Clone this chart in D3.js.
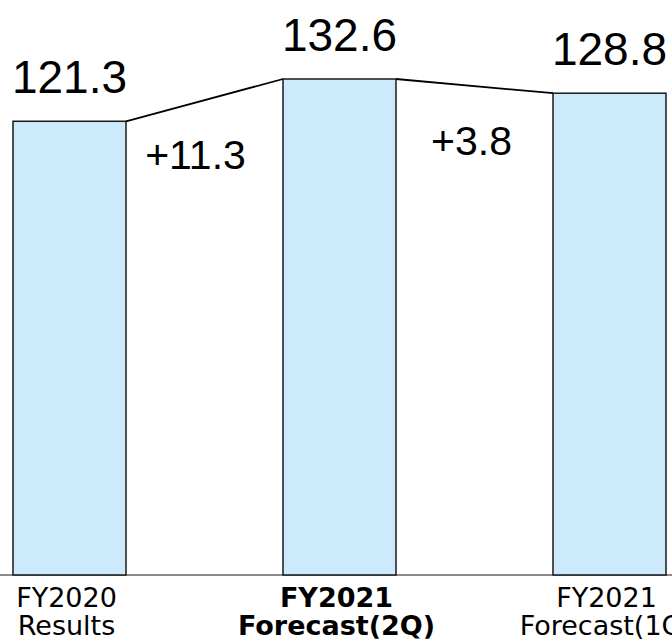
<!DOCTYPE html>
<html>
<head>
<meta charset="utf-8">
<script src="https://cdn.jsdelivr.net/npm/d3@7"></script>
<style>
html,body{margin:0;padding:0;background:#fff;}
svg{display:block;}
</style>
</head>
<body>
<svg id="chart" width="672" height="643"></svg>
<script>
const categories = ["FY2020 Results", "FY2021 Forecast(2Q)", "FY2021 Forecast(1Q)"];
const labelLine1 = ["FY2020", "FY2021", "FY2021"];
const labelLine2 = ["Results", "Forecast(2Q)", "Forecast(1Q)"];
const boldFlags = [false, true, false];
const values = [121.3, 132.6, 128.8];
const valueLabels = ["121.3", "132.6", "128.8"];
const deltaLabels = ["+11.3", "+3.8"];

const svg = d3.select("#chart");
const W = 672;

const x = d3.scalePoint().domain(categories).range([69.5, 609.5]);
const barW = 113;
const y = d3.scaleLinear().domain([0, 132.6]).range([575, 79]);

// baseline
svg.append("line")
  .attr("x1", 0).attr("x2", W)
  .attr("y1", y(0)).attr("y2", y(0))
  .attr("stroke", "#8c8c8c").attr("stroke-width", 2);

// bars
svg.selectAll("rect.bar").data(categories).enter().append("rect")
  .attr("class", "bar")
  .attr("x", d => x(d) - barW / 2)
  .attr("y", (d, i) => y(values[i]))
  .attr("width", barW)
  .attr("height", (d, i) => y(0) - y(values[i]))
  .attr("fill", "#cceafb")
  .attr("stroke", "#1a1a1a")
  .attr("stroke-width", 1.5);

// connector lines
for (let i = 0; i < categories.length - 1; i++) {
  svg.append("line")
    .attr("x1", x(categories[i]) + barW / 2)
    .attr("y1", y(values[i]))
    .attr("x2", x(categories[i + 1]) - barW / 2)
    .attr("y2", y(values[i + 1]))
    .attr("stroke", "#000").attr("stroke-width", 1.8);
}

// value labels
svg.selectAll("text.val").data(categories).enter().append("text")
  .attr("class", "val")
  .attr("x", d => x(d))
  .attr("y", (d, i) => y(values[i]) - 28)
  .attr("text-anchor", "middle")
  .attr("font-family", "'Liberation Sans', Arial, sans-serif")
  .attr("font-size", 46)
  .attr("fill", "#000")
  .text((d, i) => valueLabels[i]);

// delta labels
const deltaShift = [-9, -3];
deltaLabels.forEach((t, i) => {
  const x0 = x(categories[i]) + barW / 2;
  const x1 = x(categories[i + 1]) - barW / 2;
  const midY = (y(values[i]) + y(values[i + 1])) / 2;
  svg.append("text")
    .attr("x", (x0 + x1) / 2 + deltaShift[i])
    .attr("y", midY + 69)
    .attr("text-anchor", "middle")
    .attr("font-family", "'Liberation Sans', Arial, sans-serif")
    .attr("font-size", 41)
    .attr("fill", "#000")
    .text(t);
});

// category labels
categories.forEach((c, i) => {
  const g = svg.append("text")
    .attr("text-anchor", "middle")
    .attr("font-family", "'DejaVu Sans', Verdana, sans-serif")
    .attr("font-size", 27)
    .attr("font-weight", boldFlags[i] ? "bold" : "normal")
    .attr("fill", "#000");
  g.append("tspan").attr("x", x(c) - 3).attr("y", 607).text(labelLine1[i]);
  g.append("tspan").attr("x", x(c) - 3).attr("y", 635).text(labelLine2[i]);
});
</script>
</body>
</html>
